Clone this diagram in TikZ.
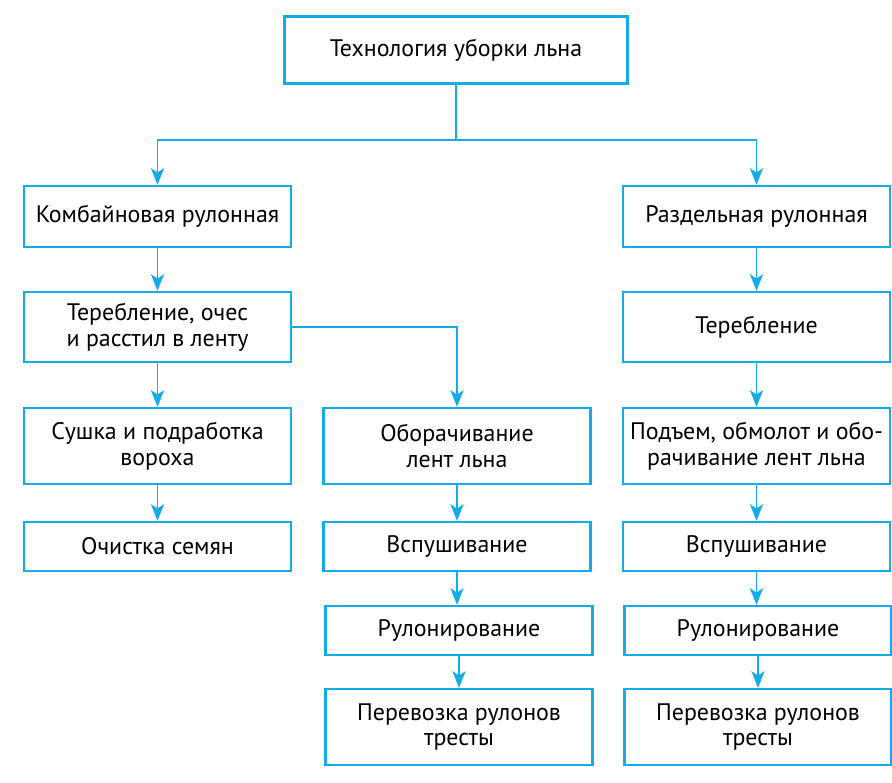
\documentclass[tikz,border=0pt]{standalone}
\usepackage{fontspec}
\setmainfont{PT Sans}
\usetikzlibrary{arrows.meta}
\definecolor{flax}{RGB}{20,172,232}
\tikzset{box/.style={draw=flax, line width=1.3pt, align=center, minimum width=5.34cm, font=\fontsize{13.6}{14.6}\selectfont, inner sep=0pt},
  arr/.style={draw=flax, line width=1.1pt, -{Stealth[length=9.5pt, width=7.5pt, inset=2.5pt]}}}

\begin{document}
\begin{tikzpicture}[x=0.02cm, y=-0.02cm]
\useasboundingbox (0,0) rectangle (892,782);
\node[box, minimum width=6.86cm, minimum height=1.34cm] (root) at (456,50) {Технология уборки льна};
\node[box, minimum height=1.22cm] (comb) at (157.5,216.5) {Комбайновая рулонная};
\node[box, minimum height=1.22cm] (razd) at (756.5,216.5) {Раздельная рулонная};
\node[box, minimum height=1.4cm] (terL) at (157.5,327) {Теребление, очес\\и расстил в ленту};
\node[box, minimum height=1.4cm] (terR) at (756.5,327) {Теребление};
\node[box, minimum height=1.52cm] (sush) at (157.5,446) {Сушка и подработка\\вороха};
\node[box, minimum height=1.52cm] (oborM) at (457,446) {Оборачивание\\лент льна};
\node[box, minimum height=1.52cm] (oborR) at (756.5,446) {Подъем, обмолот и обо-\\рачивание лент льна};
\node[box, minimum height=0.98cm] (ochi) at (157.5,546.5) {Очистка семян};
\node[box, minimum height=0.98cm] (vspM) at (457,546.5) {Вспушивание};
\node[box, minimum height=0.98cm] (vspR) at (756.5,546.5) {Вспушивание};
\node[box, minimum height=0.98cm] (rulM) at (459,630.5) {Рулонирование};
\node[box, minimum height=0.98cm] (rulR) at (758,630.5) {Рулонирование};
\node[box, minimum height=1.52cm] (perM) at (459,727) {Перевозка рулонов\\тресты};
\node[box, minimum height=1.52cm] (perR) at (758,727) {Перевозка рулонов\\тресты};
\coordinate (split) at (456,140);
\draw[draw=flax, line width=1.2pt] (root) -- (split);
\draw[arr] (split) -| (comb);
\draw[arr] (split) -| (razd);
\draw[arr] (comb) -- (terL);
\draw[arr] (razd) -- (terR);
\draw[arr] (terL) -- (sush);
\draw[arr] (terL.east) -| (oborM);
\draw[arr] (terR) -- (oborR);
\draw[arr] (sush) -- (ochi);
\draw[arr] (oborM) -- (vspM);
\draw[arr] (oborR) -- (vspR);
\draw[arr] (vspM.south) -- (vspM.south |- rulM.north);
\draw[arr] (vspR.south) -- (vspR.south |- rulR.north);
\draw[arr] (rulM.south) -- (rulM.south |- perM.north);
\draw[arr] (rulR.south) -- (rulR.south |- perR.north);
\end{tikzpicture}
\end{document}
